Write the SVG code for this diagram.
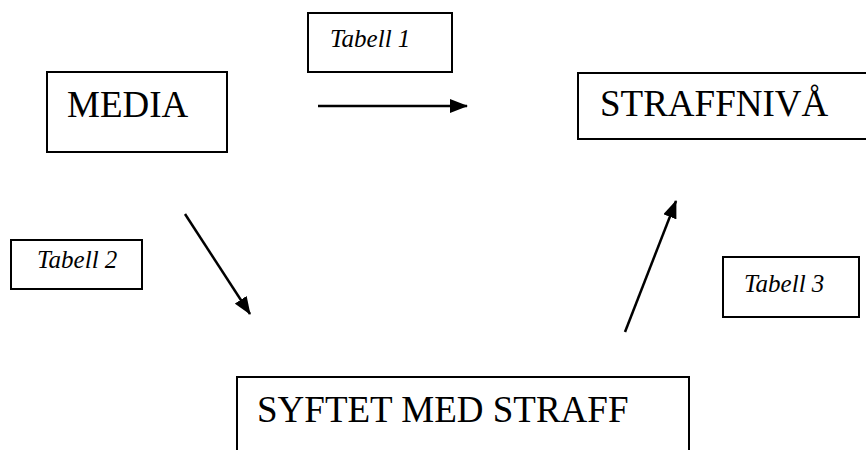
<svg xmlns="http://www.w3.org/2000/svg" width="866" height="450" viewBox="0 0 866 450">
<style>
.box{fill:#fff;stroke:#000;stroke-width:2}
.big{font-family:"Liberation Serif","Times New Roman",serif;font-size:37px;fill:#000}
.lab{font-family:"Liberation Serif","Times New Roman",serif;font-size:25px;font-style:italic;fill:#000}
.con{stroke:#000;stroke-width:2.5;fill:none;marker-end:url(#ah)}
</style>
<defs>
<marker id="ah" markerWidth="18" markerHeight="14" refX="17" refY="7" orient="auto" markerUnits="userSpaceOnUse">
<path d="M0,0 L18,7 L0,14 Z" fill="#000"/>
</marker>
</defs>
<rect width="866" height="450" fill="#fff"/>
<g id="media">
<rect class="box" x="47" y="72" width="180" height="80"/>
<text class="big" x="67" y="117">MEDIA</text>
</g>
<g id="straffniva">
<rect class="box" x="578" y="73" width="300" height="66"/>
<text class="big" x="600" y="116">STRAFFNIVÅ</text>
</g>
<g id="syftet">
<rect class="box" x="237" y="377" width="452" height="90"/>
<text class="big" x="257" y="422">SYFTET MED STRAFF</text>
</g>
<g id="tabell1">
<rect class="box" x="308" y="13" width="144" height="59"/>
<text class="lab" x="330" y="47">Tabell 1</text>
</g>
<g id="tabell2">
<rect class="box" x="11" y="240" width="131" height="49"/>
<text class="lab" x="37" y="268">Tabell 2</text>
</g>
<g id="tabell3">
<rect class="box" x="723" y="257" width="136" height="60"/>
<text class="lab" x="744" y="292">Tabell 3</text>
</g>
<g id="connectors">
<line class="con" x1="318" y1="106" x2="467" y2="106"/>
<line class="con" x1="185" y1="214" x2="250" y2="314"/>
<line class="con" x1="625" y1="332" x2="676" y2="201"/>
</g>
</svg>
